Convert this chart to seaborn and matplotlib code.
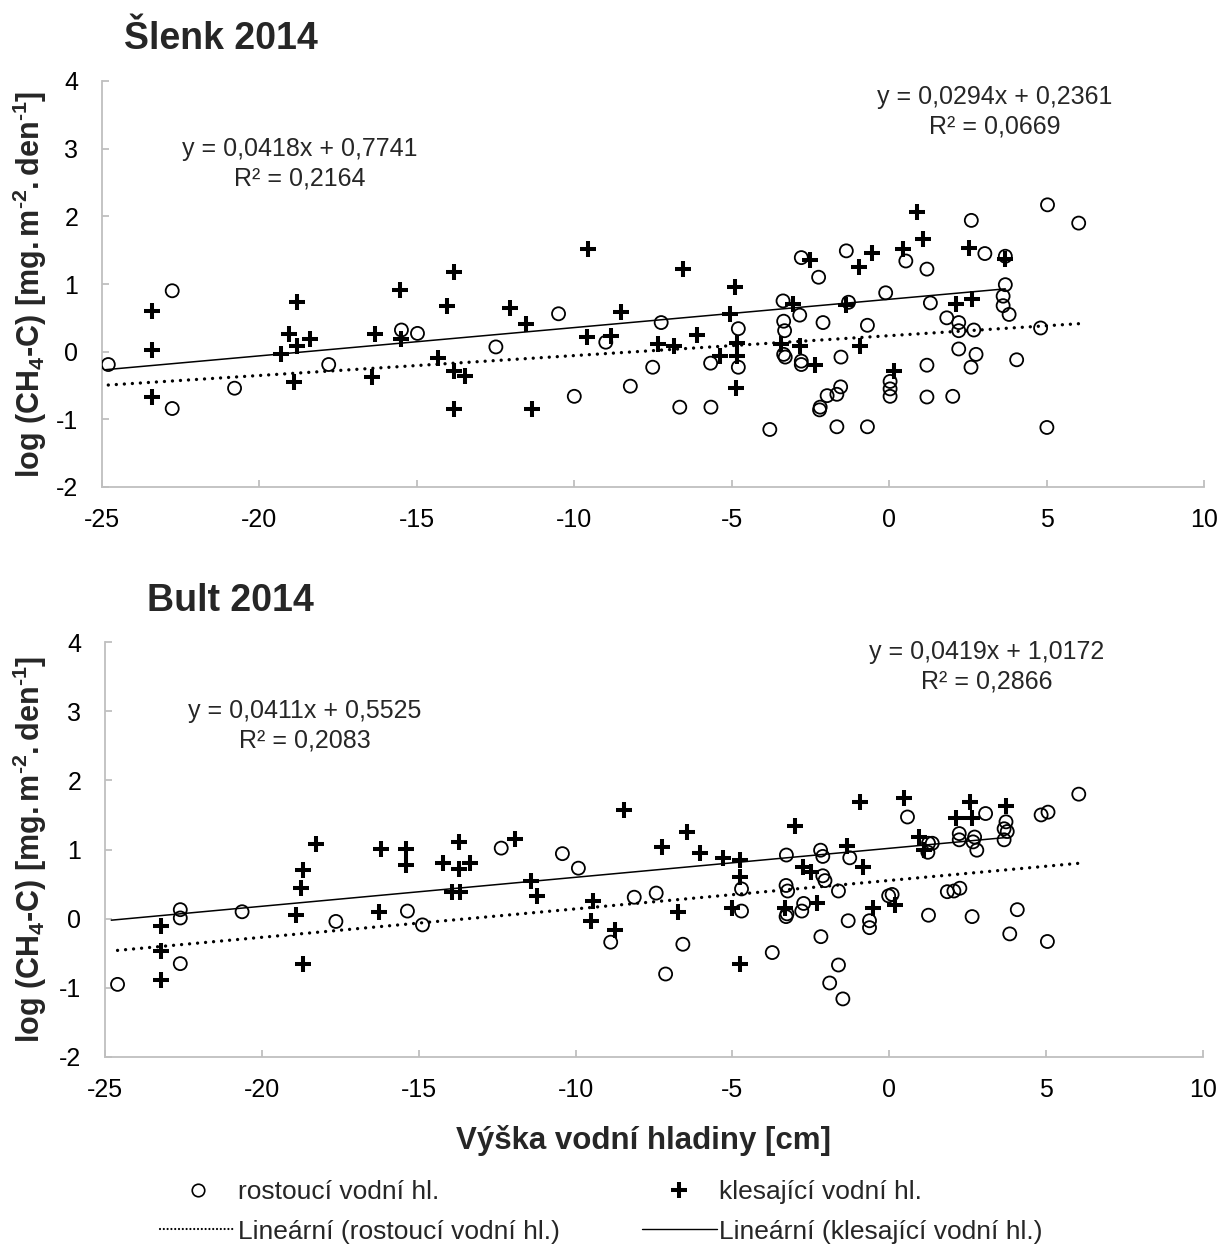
import numpy as np
import pandas as pd
import matplotlib
matplotlib.use("Agg")
import matplotlib.pyplot as plt
import seaborn as sns
from matplotlib.lines import Line2D

# ---------------- data ----------------
# Šlenk 2014 - rostoucí vodní hl. (open circles)
slenk_ros_x = [-24.8, -22.77, -22.77, -20.79, -17.80, -15.49, -14.98, -12.49, -10.50, -10.0,
               -9.0, -8.22, -7.51, -7.24, -6.65, -5.67, -5.66, -4.79, -4.79, -3.79,
               -3.37, -3.35, -3.32, -3.35, -3.30, -2.84, -2.79, -2.79, -2.79, -2.24,
               -2.10, -2.19, -2.21, -1.97, -1.66, -1.54, -1.66, -1.53, -1.36, -1.29,
               -0.69, -0.69, -0.11, 0.03, 0.03, 0.03, 0.53, 1.20, 1.31, 1.20,
               1.20, 1.83, 2.02, 2.21, 2.21, 2.21, 2.69, 2.76, 2.60, 2.61,
               3.04, 3.69, 3.69, 3.62, 3.62, 3.81, 4.05, 4.81, 5.01, 5.03, 6.02]
slenk_ros_y = [-0.19, 0.90, -0.84, -0.54, -0.19, 0.32, 0.27, 0.07, 0.56, -0.66,
               0.14, -0.51, -0.23, 0.43, -0.82, -0.17, -0.82, 0.34, -0.23, -1.15,
               0.75, 0.45, 0.31, -0.04, -0.08, 0.54, -0.14, -0.19, 1.39, 1.10,
               0.43, -0.82, -0.86, -0.65, -0.63, -0.52, -1.11, -0.08, 1.49, 0.73,
               -1.11, 0.39, 0.87, -0.44, -0.55, -0.66, 1.34, 1.22, 0.72, -0.20,
               -0.67, 0.50, -0.66, 0.43, 0.31, 0.04, 0.32, -0.04, -0.23, 1.94,
               1.45, 1.41, 0.99, 0.82, 0.68, 0.55, -0.12, 0.35, -1.12, 2.17, 1.90]

# Šlenk 2014 - klesající vodní hl. (plus)
slenk_kle_x = [-23.4, -23.4, -23.4, -19.31, -19.06, -18.81, -18.81, -18.9, -18.39, -16.32,
               -16.41, -15.51, -15.53, -14.33, -14.03, -13.83, -13.83, -13.48, -13.83, -12.04,
               -11.54, -11.34, -9.55, -9.6, -8.84, -8.53, -7.35, -6.84, -6.55, -6.11,
               -5.38, -4.90, -5.06, -4.82, -4.82, -4.85, -3.06, -3.43, -2.84, -2.34,
               -2.52, -1.38, -0.96, -0.92, -0.56, 0.16, 0.43, 0.89, 1.09, 2.12,
               2.64, 2.53, 3.69]
slenk_kle_y = [0.60, 0.03, -0.67, -0.03, 0.26, 0.73, 0.08, -0.45, 0.18, 0.26,
               -0.38, 0.18, 0.91, -0.09, 0.67, 1.17, -0.29, -0.36, -0.84, 0.64,
               0.41, -0.84, 1.52, 0.22, 0.23, 0.59, 0.11, 0.09, 1.22, 0.24,
               -0.06, 0.96, 0.55, 0.13, -0.06, -0.54, 0.71, 0.12, 0.08, -0.19,
               1.35, 0.69, 1.25, 0.08, 1.46, -0.29, 1.52, 2.06, 1.67, 0.71,
               0.78, 1.53, 1.37]

# Bult 2014 - rostoucí vodní hl.
bult_ros_x = [-24.60, -22.60, -22.60, -22.60, -20.63, -17.64, -15.36, -14.88, -12.37, -10.42,
              -9.91, -8.88, -8.13, -7.43, -7.13, -6.58, -4.71, -4.71, -3.73, -3.28,
              -3.29, -3.24, -3.29, -3.26, -2.73, -2.79, -2.19, -2.12, -2.12, -2.05,
              -2.18, -1.62, -1.62, -1.90, -1.48, -1.26, -1.31, -0.63, -0.63, -0.02,
              0.09, 0.58, 1.25, 1.37, 1.23, 1.25, 1.85, 2.06, 2.25, 2.23,
              2.23, 2.72, 2.67, 2.79, 2.64, 3.07, 3.72, 3.66, 3.76, 3.66,
              4.08, 3.84, 4.84, 5.06, 5.04, 6.04]
bult_ros_y = [-0.95, 0.13, 0.01, -0.65, 0.10, -0.04, 0.11, -0.09, 1.02, 0.94,
              0.73, -0.34, 0.31, 0.37, -0.80, -0.37, 0.43, 0.11, -0.49, 0.92,
              0.48, 0.40, 0.03, 0.07, 0.22, 0.11, 0.99, 0.90, 0.62, 0.55,
              -0.26, 0.40, -0.67, -0.93, -1.16, 0.88, -0.03, -0.03, -0.13, 0.33,
              0.35, 1.47, 1.09, 1.09, 0.96, 0.05, 0.39, 0.40, 0.44, 1.23,
              1.14, 1.18, 1.11, 0.99, 0.03, 1.52, 1.40, 1.30, 1.26, 1.14,
              0.13, -0.22, 1.50, 1.54, -0.33, 1.80]

# Bult 2014 - klesající vodní hl.
bult_kle_x = [-23.23, -23.23, -23.23, -18.92, -18.76, -18.69, -18.69, -18.27, -16.20, -16.28,
              -15.40, -15.40, -14.21, -13.72, -13.72, -13.38, -13.94, -13.69, -11.92, -11.42,
              -11.23, -9.44, -9.51, -8.75, -8.45, -7.26, -6.46, -6.74, -6.02, -5.29,
              -4.76, -4.77, -5.01, -4.76, -2.99, -3.33, -2.76, -2.50, -2.31, -1.34,
              -0.84, -0.92, -0.52, 0.19, 0.48, 0.95, 1.11, 2.13, 2.57, 2.64, 3.72]
bult_kle_y = [-0.11, -0.47, -0.88, 0.06, 0.45, 0.71, -0.65, 1.08, 1.01, 0.09,
              1.01, 0.77, 0.81, 1.11, 0.72, 0.81, 0.38, 0.38, 1.15, 0.54,
              0.33, 0.25, -0.04, -0.16, 1.57, 1.04, 1.26, 0.10, 0.95, 0.87,
              0.85, 0.60, 0.16, -0.65, 1.34, 0.16, 0.74, 0.67, 0.23, 1.05,
              0.75, 1.68, 0.16, 0.20, 1.74, 1.18, 0.99, 1.46, 1.69, 1.45, 1.63]

# Trend lines (Excel linear trendlines): slope, intercept, x-range
slenk_ros_fit = [0.0294, 0.2361]
slenk_kle_fit = [0.0418, 0.7741]
bult_ros_fit = [0.0411, 0.5525]
bult_kle_fit = [0.0419, 1.0172]
slenk_ros_range = [-24.8, 6.02]
slenk_kle_range = [-24.9, 3.69]
bult_ros_range = [-24.6, 6.04]
bult_kle_range = [-24.8, 3.72]

titles = ["Šlenk 2014", "Bult 2014"]
eq_slenk = ["y = 0,0418x + 0,7741\nR² = 0,2164", "y = 0,0294x + 0,2361\nR² = 0,0669"]
eq_bult = ["y = 0,0411x + 0,5525\nR² = 0,2083", "y = 0,0419x + 1,0172\nR² = 0,2866"]
x_ticks = [-25, -20, -15, -10, -5, 0, 5, 10]
y_ticks = [-2, -1, 0, 1, 2, 3, 4]
series_labels = ["rostoucí vodní hl.", "klesající vodní hl.",
                 "Lineární (rostoucí vodní hl.)", "Lineární (klesající vodní hl.)"]
x_label = "Výška vodní hladiny [cm]"

# ---------------- style ----------------
sns.set_style("white")
plt.rcParams["font.family"] = ["Liberation Sans", "DejaVu Sans"]
plt.rcParams["axes.unicode_minus"] = False
plt.rcParams["mathtext.fontset"] = "custom"
plt.rcParams["mathtext.rm"] = "Liberation Sans"
plt.rcParams["mathtext.bf"] = "Liberation Sans:bold"
plt.rcParams["mathtext.it"] = "Liberation Sans:italic"

W, H = 1223, 1252
fig = plt.figure(figsize=(W / 100, H / 100), dpi=100)


def fx(x):
    return x / W


def fy(y):
    return 1 - y / H


GRAY = "#BFBFBF"
DOT_STYLE = (0, (0.01, 2.4))
CIRCLE_S = 88
PLUS_S = 140


def draw_panel(rect, rx, ry, kx, ky, rfit, kfit, rrange, krange):
    l, t, r, b = rect
    ax = fig.add_axes([fx(l), fy(b), fx(r) - fx(l), fy(t) - fy(b)])
    dr = pd.DataFrame({"x": rx, "y": ry})
    dk = pd.DataFrame({"x": kx, "y": ky})
    sns.scatterplot(data=dr, x="x", y="y", ax=ax, marker="o", s=CIRCLE_S,
                    facecolors="none", edgecolor="black", linewidth=1.3, zorder=3)
    sns.scatterplot(data=dk, x="x", y="y", ax=ax, marker="+", s=PLUS_S,
                    color="black", linewidth=2.9, zorder=3)
    xr = np.array(rrange)
    xk = np.array(krange)
    sns.lineplot(x=xr, y=rfit[0] * xr + rfit[1], ax=ax, color="black",
                 linewidth=2.4, linestyle=DOT_STYLE, dash_capstyle="round", zorder=2)
    sns.lineplot(x=xk, y=kfit[0] * xk + kfit[1], ax=ax, color="black",
                 linewidth=1.1, zorder=2)
    ax.set_xlim(-25, 10)
    ax.set_ylim(-2, 4)
    ax.set_xticks(x_ticks)
    ax.set_yticks(y_ticks)
    ax.set_xlabel("")
    ax.set_ylabel("")
    for s in ["top", "right"]:
        ax.spines[s].set_visible(False)
    for s in ["left", "bottom"]:
        ax.spines[s].set_color(GRAY)
        ax.spines[s].set_linewidth(1.3)
    ax.tick_params(axis="both", direction="in", length=5, width=1.3, color=GRAY,
                   labelsize=18, labelcolor="black", pad=17)
    ax.tick_params(axis="x", pad=15)
    ax.tick_params(left=True, bottom=True)
    return ax


ax1 = draw_panel((102, 81, 1204, 487), slenk_ros_x, slenk_ros_y, slenk_kle_x, slenk_kle_y,
                 slenk_ros_fit, slenk_kle_fit, slenk_ros_range, slenk_kle_range)
ax2 = draw_panel((105, 642, 1203, 1057), bult_ros_x, bult_ros_y, bult_kle_x, bult_kle_y,
                 bult_ros_fit, bult_kle_fit, bult_ros_range, bult_kle_range)

# titles
fig.text(fx(124), fy(49), titles[0], fontsize=27, fontweight="bold", ha="left", va="baseline")
fig.text(fx(147), fy(611), titles[1], fontsize=27, fontweight="bold", ha="left", va="baseline")

# y labels
ylab = r"$\mathbf{log\ (CH_4}$-$\mathbf{C)\ [mg.m^{‐2}.den^{‐1}]}$"
fig.text(fx(30), fy(284), ylab, fontsize=22, fontweight="bold", rotation=90,
         ha="center", va="center")
fig.text(fx(30), fy(849), ylab, fontsize=22, fontweight="bold", rotation=90,
         ha="center", va="center")

# x label
fig.text(fx(643), fy(1141), x_label, fontsize=22.5, fontweight="bold", ha="center", va="center")

# equations
EQ_FS = 18
EQ_LS = 1.27
fig.text(fx(300), fy(164), eq_slenk[0], fontsize=EQ_FS, ha="center", va="center",
         multialignment="center", linespacing=EQ_LS)
fig.text(fx(995), fy(112), eq_slenk[1], fontsize=EQ_FS, ha="center", va="center",
         multialignment="center", linespacing=EQ_LS)
fig.text(fx(305), fy(726), eq_bult[0], fontsize=EQ_FS, ha="center", va="center",
         multialignment="center", linespacing=EQ_LS)
fig.text(fx(987), fy(667), eq_bult[1], fontsize=EQ_FS, ha="center", va="center",
         multialignment="center", linespacing=EQ_LS)

# legend
h_circle = Line2D([], [], marker="o", linestyle="none", markerfacecolor="none",
                  markeredgecolor="black", markersize=9, markeredgewidth=1.2)
h_plus = Line2D([], [], marker="+", linestyle="none", color="black",
                markersize=11, markeredgewidth=2.9)
h_dot = Line2D([], [], color="black", linewidth=1.6, linestyle=(0, (0.01, 1.7)),
               dash_capstyle="round")
h_solid = Line2D([], [], color="black", linewidth=1.0)
fig.legend([h_circle, h_dot, h_plus, h_solid],
           [series_labels[0], series_labels[2], series_labels[1], series_labels[3]],
           ncol=2, loc="center left", bbox_to_anchor=(fx(160), fy(1212)),
           frameon=False, fontsize=19, handlelength=2.85, handletextpad=0.1,
           columnspacing=3.1, labelspacing=0.58, borderpad=0, borderaxespad=0)

fig.savefig("out.png", dpi=100)
